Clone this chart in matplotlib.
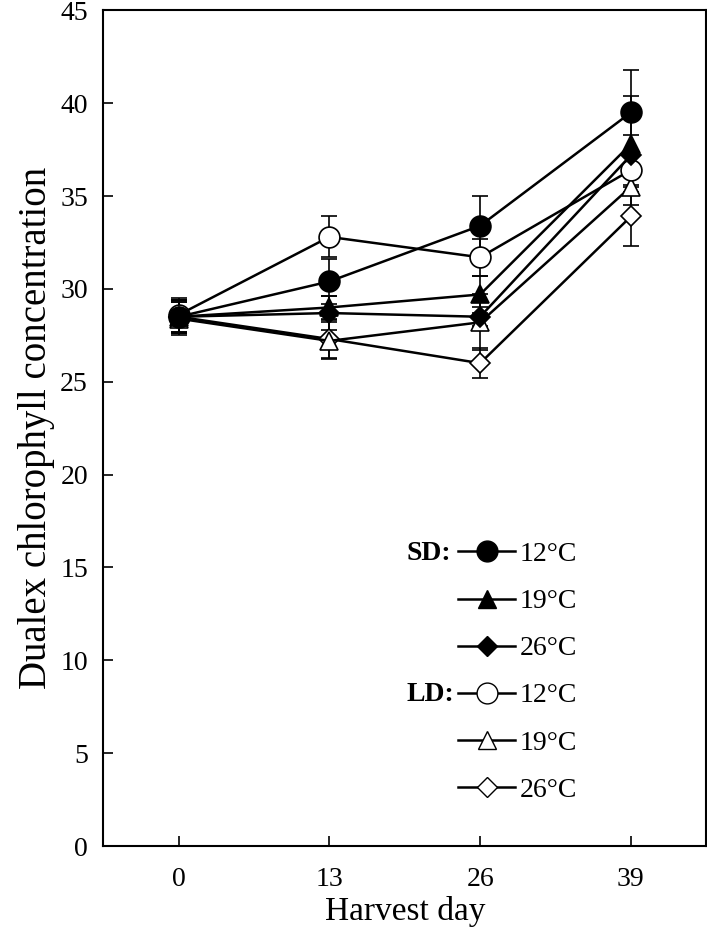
import matplotlib
matplotlib.use("Agg")
import matplotlib.pyplot as plt
from matplotlib.lines import Line2D

plt.rcParams['font.family'] = ['Liberation Serif', 'DejaVu Serif']

# --- data ---
days = [0, 13, 26, 39]

sd12 = [28.5, 30.4, 33.4, 39.5]
sd19 = [28.5, 29.0, 29.7, 37.8]
sd26 = [28.5, 28.7, 28.5, 37.2]
ld12 = [28.6, 32.8, 31.7, 36.4]
ld19 = [28.4, 27.2, 28.2, 35.5]
ld26 = [28.5, 27.3, 26.0, 33.9]

sd12_err = [0.9, 1.2, 1.6, 2.3]
sd19_err = [0.8, 0.6, 1.0, 2.6]
sd26_err = [0.9, 0.9, 0.5, 1.1]
ld12_err = [0.9, 1.1, 1.0, 0.8]
ld19_err = [0.9, 1.0, 1.5, 1.0]
ld26_err = [0.9, 1.0, 0.8, 1.6]

temps = ["12°C", "19°C", "26°C", "12°C", "19°C", "26°C"]

# marker, face, size
series = [
    (ld26, ld26_err, "D", "white", 10),
    (ld19, ld19_err, "^", "white", 13),
    (ld12, ld12_err, "o", "white", 15),
    (sd26, sd26_err, "D", "black", 10),
    (sd19, sd19_err, "^", "black", 13),
    (sd12, sd12_err, "o", "black", 15),
]

fig = plt.figure(figsize=(7.07, 9.4), dpi=100)
ax = fig.add_axes([0.146, 0.1, 0.853, 0.889])

for vals, err, mk, fc, ms in series:
    ax.errorbar(days, vals, yerr=err, color="black", marker=mk, markersize=ms,
                markerfacecolor=fc, markeredgecolor="black", markeredgewidth=1.2,
                linewidth=1.8, elinewidth=1.2, capsize=5.5, capthick=1.2)

ax.set_xlim(-6.5, 45.5)
ax.set_ylim(0, 45)
ax.set_xticks(days)
ax.set_yticks(range(0, 46, 5))
ax.tick_params(direction="in", length=7, width=1.2, labelsize=20)
ax.tick_params(axis="x", pad=15)
ax.tick_params(axis="y", pad=11)
for s in ax.spines.values():
    s.set_linewidth(1.5)

ax.set_xlabel("Harvest day", fontsize=24, labelpad=3)
ax.set_ylabel("Dualex chlorophyll concentration", fontsize=28, labelpad=4)

# --- legend ---
handles = [
    Line2D([], [], color="black", lw=1.8, marker="o", ms=15, mfc="black", mec="black"),
    Line2D([], [], color="black", lw=1.8, marker="^", ms=13, mfc="black", mec="black"),
    Line2D([], [], color="black", lw=1.8, marker="D", ms=10, mfc="black", mec="black"),
    Line2D([], [], color="black", lw=1.8, marker="o", ms=15, mfc="white", mec="black"),
    Line2D([], [], color="black", lw=1.8, marker="^", ms=13, mfc="white", mec="black"),
    Line2D([], [], color="black", lw=1.8, marker="D", ms=10, mfc="white", mec="black"),
]
ax.legend(handles, temps, loc="center left", bbox_to_anchor=(0.589, 0.208),
          frameon=False, fontsize=20, handlelength=2.05, handletextpad=0.15,
          labelspacing=0.78, borderpad=0, borderaxespad=0)
ax.text(0.503, 0.350, "SD:", transform=ax.transAxes, fontsize=20,
        fontweight="bold", va="center", ha="left")
ax.text(0.503, 0.181, "LD:", transform=ax.transAxes, fontsize=20,
        fontweight="bold", va="center", ha="left")

fig.savefig("out.png", dpi=100)
